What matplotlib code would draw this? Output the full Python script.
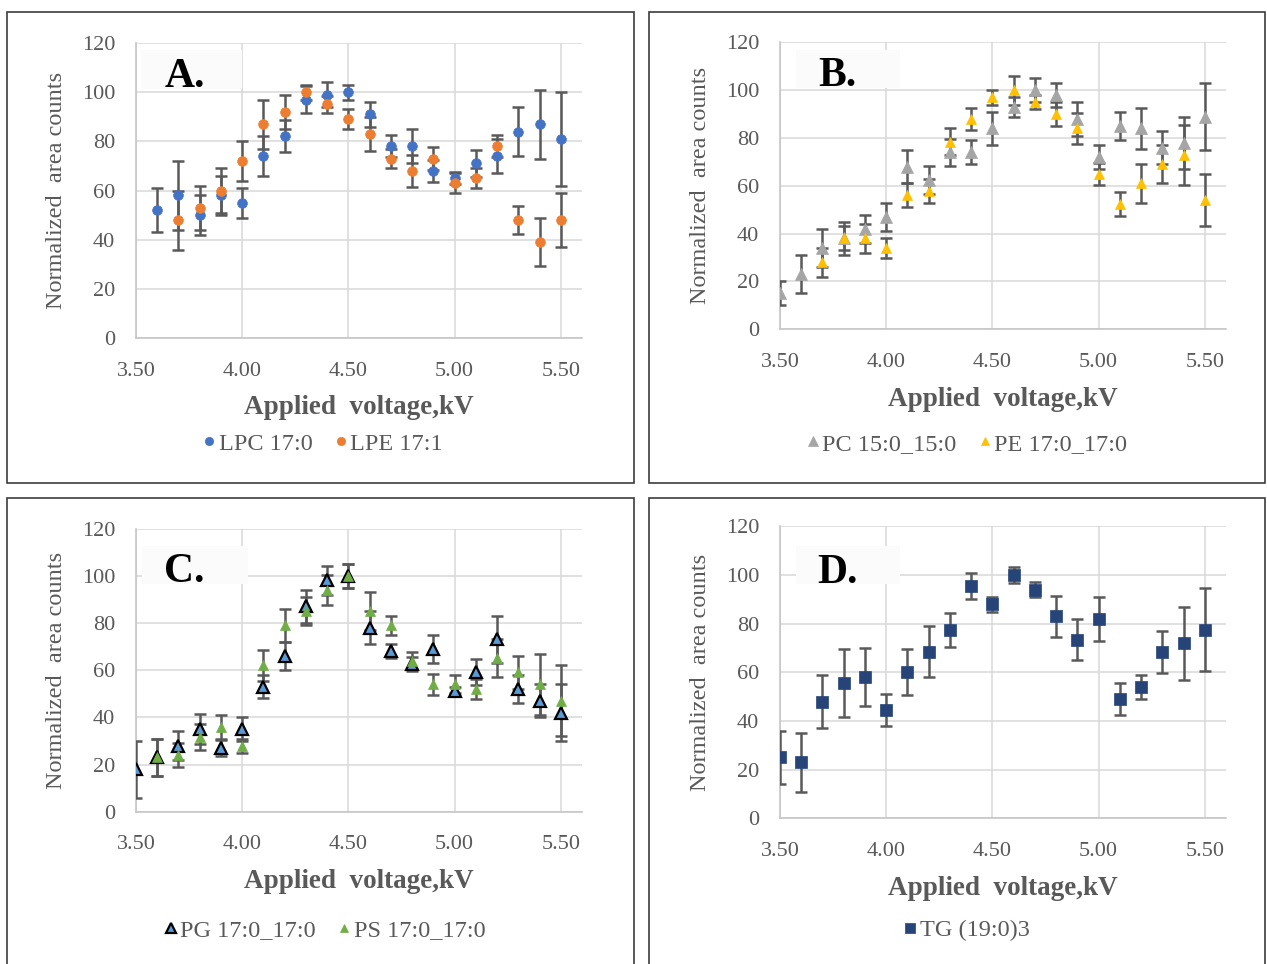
import matplotlib
matplotlib.use("Agg")
import matplotlib.pyplot as plt
from matplotlib.lines import Line2D
from matplotlib.patches import Rectangle

# ---------------- data ----------------
# Panel A
lpc_v = [3.6, 3.7, 3.8, 3.9, 4.0, 4.1, 4.2, 4.3, 4.4, 4.5, 4.6, 4.7, 4.8, 4.9, 5.0, 5.1, 5.2, 5.3, 5.4, 5.5]
lpc = [52, 58, 50, 58, 55, 74, 82, 97, 99, 100, 91, 78, 78, 68, 65, 71, 74, 84, 87, 81]
lpc_err = [9, 14, 8, 8, 6, 8, 6.5, 5.5, 5, 3, 5, 4.5, 7, 4.6, 2.5, 5.5, 7, 10, 14, 19]

lpe_v = [3.7, 3.8, 3.9, 4.0, 4.1, 4.2, 4.3, 4.4, 4.5, 4.6, 4.7, 4.8, 4.9, 5.0, 5.1, 5.2, 5.3, 5.4, 5.5]
lpe = [48, 53, 60, 72, 87, 92, 100, 95, 89, 83, 73, 68, 73, 63, 65, 78, 48, 39, 48]
lpe_err = [12, 9, 9, 8, 10, 7, 3, 3.5, 4, 7, 4, 6.5, 4.5, 4, 4, 4.5, 5.5, 9.7, 11]

# Panel B
pc_v = [3.5, 3.6, 3.7, 3.8, 3.9, 4.0, 4.1, 4.2, 4.3, 4.4, 4.5, 4.6, 4.7, 4.8, 4.9, 5.0, 5.1, 5.2, 5.3, 5.4, 5.5]
pc = [15, 23, 34, 38, 42, 47, 68, 62.5, 74, 74, 84, 93, 100, 98, 88, 72, 85, 84, 76, 78, 89]
pc_err = [5, 8, 8, 5, 6, 6, 7, 6, 5.5, 5, 7, 4, 5, 5, 7, 5, 6, 8.5, 7, 11, 14]

pe_v = [3.7, 3.8, 3.9, 4.0, 4.1, 4.2, 4.3, 4.4, 4.5, 4.6, 4.7, 4.8, 4.9, 5.0, 5.1, 5.2, 5.3, 5.4, 5.5]
pe = [28, 38, 38, 34, 56, 58, 78.5, 88, 97, 100, 95, 90, 84, 65, 52.5, 61, 69, 73, 54]
pe_err = [6, 7, 6, 4, 5, 5, 5.5, 4.5, 3, 6, 3, 5, 6.5, 4.6, 5, 8, 8, 12.5, 11]

# Panel C
pg_v = [3.5, 3.6, 3.7, 3.8, 3.9, 4.0, 4.1, 4.2, 4.3, 4.4, 4.5, 4.6, 4.7, 4.8, 4.9, 5.0, 5.1, 5.2, 5.3, 5.4, 5.5]
pg = [18, 23, 28, 35, 27, 35, 53, 66, 87, 98, 100, 78, 68, 62.5, 69, 51, 59, 73, 52, 47, 42]
pg_err = [12, 8, 6, 6.5, 3.5, 5, 5, 6, 7, 6, 5, 7, 3, 3, 6, 2, 5.5, 10, 6, 7, 12]

ps_v = [3.6, 3.7, 3.8, 3.9, 4.0, 4.1, 4.2, 4.3, 4.4, 4.5, 4.6, 4.7, 4.8, 4.9, 5.0, 5.1, 5.2, 5.3, 5.4, 5.5]
ps = [23, 24, 31.5, 36, 28, 62, 79, 85, 94, 100, 85, 79, 64, 54, 54, 52, 65, 59, 54, 47]
ps_err = [8, 5, 5.5, 5, 3, 6.5, 7, 6, 6.5, 5, 8, 4, 3.5, 4.5, 3.8, 4.3, 8, 7, 13, 15]

# Panel D
tg_v = [3.5, 3.6, 3.7, 3.8, 3.9, 4.0, 4.1, 4.2, 4.3, 4.4, 4.5, 4.6, 4.7, 4.8, 4.9, 5.0, 5.1, 5.2, 5.3, 5.4, 5.5]
tg = [25, 23, 48, 55.5, 58, 44.5, 60, 68.5, 77.5, 95.5, 88, 100, 94, 83, 73.5, 82, 49, 54, 68.5, 72, 77.5]
tg_err = [11, 12, 11, 14, 12, 6.7, 9.5, 10.5, 7, 5.5, 3, 3.4, 3, 8.5, 8.6, 9, 6.7, 4.8, 8.7, 15, 17]

x_ticks = [3.5, 4.0, 4.5, 5.0, 5.5]
y_ticks = [0, 20, 40, 60, 80, 100, 120]
x_label = "Applied  voltage,kV"
y_label = "Normalized  area counts"

# ---------------- styling ----------------
W, H, DPI = 1267, 964, 100
TEXT = "#595959"
GRID = "#d9d9d9"
ERR = "#595959"

plt.rcParams["font.family"] = ["Liberation Serif", "DejaVu Serif"]

STYLES = {
    "LPC 17:0": dict(marker="o", ms=7.0, mfc="#4472C4", mec="#4472C4", mew=0.5),
    "LPE 17:1": dict(marker="o", ms=7.0, mfc="#ED7D31", mec="#ED7D31", mew=0.5),
    "PC 15:0_15:0": dict(marker="^", ms=9.0, mfc="#A5A5A5", mec="#A5A5A5", mew=0.5),
    "PE 17:0_17:0": dict(marker="^", ms=7.5, mfc="#FFC000", mec="#FFC000", mew=0.5),
    "PG 17:0_17:0": dict(marker="^", ms=8.5, mfc="#5B9BD5", mec="black", mew=1.6),
    "PS 17:0_17:0": dict(marker="^", ms=7.5, mfc="#70AD47", mec="#70AD47", mew=0.5),
    "TG (19:0)3": dict(marker="s", ms=8.5, mfc="#264478", mec="#264478", mew=0.5),
}

panels = [
    dict(tag="A.", frame=(7, 12, 634, 483), axes=(136, 43, 582, 338),
         tag_box=(141, 50, 242, 89), tag_xy=(165, 87), legend_xy=(323, 444),
         series=[(lpc_v, lpc, lpc_err, "LPC 17:0"), (lpe_v, lpe, lpe_err, "LPE 17:1")]),
    dict(tag="B.", frame=(649, 12, 1265, 483), axes=(780, 42.4, 1226, 329.3),
         tag_box=(796, 50, 900, 88), tag_xy=(818, 86), legend_xy=(967, 444),
         series=[(pc_v, pc, pc_err, "PC 15:0_15:0"), (pe_v, pe, pe_err, "PE 17:0_17:0")]),
    dict(tag="C.", frame=(7, 498, 634, 1000), axes=(136, 528.5, 582, 811.7),
         tag_box=(142, 546, 248, 584), tag_xy=(164, 582), legend_xy=(325, 930),
         series=[(pg_v, pg, pg_err, "PG 17:0_17:0"), (ps_v, ps, ps_err, "PS 17:0_17:0")]),
    dict(tag="D.", frame=(649, 498, 1265, 1000), axes=(780, 526.4, 1226, 818.3),
         tag_box=(796, 546, 900, 584), tag_xy=(817, 583), legend_xy=(967, 930),
         series=[(tg_v, tg, tg_err, "TG (19:0)3")]),
]

fig = plt.figure(figsize=(W / DPI, H / DPI), dpi=DPI)


def fig_rect(l, t, r, b):
    return [l / W, 1 - b / H, (r - l) / W, (b - t) / H]


for p in panels:
    # outer frame of each panel
    l, t, r, b = p["frame"]
    fig.patches.append(Rectangle((l / W, 1 - b / H), (r - l) / W, (b - t) / H,
                                 transform=fig.transFigure, fill=False,
                                 edgecolor="#3c3c3c", linewidth=1.2, zorder=0))

    al, at, ar, ab = p["axes"]
    ax = fig.add_axes(fig_rect(al, at, ar, ab))
    aw, ah = ar - al, ab - at

    for xs, ys, es, name in p["series"]:
        st = STYLES[name]
        ax.errorbar(xs, ys, yerr=es, fmt="none", ecolor=ERR, elinewidth=1.8,
                    capsize=4.5, capthick=1.8, zorder=3)
        ax.plot(xs, ys, linestyle="none", zorder=4, **st)

    ax.set_xlim(3.5, 5.6)
    ax.set_ylim(0, 120)
    ax.set_xticks(x_ticks)
    ax.set_yticks(y_ticks)
    ax.set_xticklabels([f"{v:.2f}" for v in x_ticks])
    ax.set_yticklabels([str(v) for v in y_ticks])
    ax.tick_params(axis="both", length=0, labelsize=16, labelcolor=TEXT)
    ax.tick_params(axis="y", pad=15)
    ax.tick_params(axis="x", pad=17)
    ax.grid(True, color=GRID, linewidth=1.1, zorder=0)
    ax.set_axisbelow(True)
    for side in ("top", "right"):
        ax.spines[side].set_visible(False)
    for side in ("left", "bottom"):
        ax.spines[side].set_color("#c6c6c6")
        ax.spines[side].set_linewidth(1.2)

    ax.set_xlabel(x_label, fontsize=19.5, fontweight="bold", color=TEXT)
    ax.xaxis.set_label_coords(0.5, -70 / ah)
    ax.xaxis.label.set_va("center")
    ax.set_ylabel(y_label, fontsize=17.5, color=TEXT)
    ax.yaxis.set_label_coords(-79 / aw, 0.5)
    ax.yaxis.label.set_va("center")

    # panel tag with its faint background
    bl, bt, br, bb = p["tag_box"]
    fig.patches.append(Rectangle((bl / W, 1 - bb / H), (br - bl) / W, (bb - bt) / H,
                                 transform=fig.transFigure, facecolor="#fbfbfb",
                                 edgecolor="none", zorder=1))
    tx, ty = p["tag_xy"]
    fig.text(tx / W, 1 - ty / H, p["tag"], fontsize=30, fontweight="bold",
             color="black", ha="left", va="baseline", zorder=5)

    handles = []
    for xs, ys, es, name in p["series"]:
        st = dict(STYLES[name])
        st["ms"] = st["ms"] * 0.85
        handles.append(Line2D([], [], linestyle="none", label=name, **st))
    lx, ly = p["legend_xy"]
    fig.legend(handles=handles, loc="center", bbox_to_anchor=(lx / W, 1 - ly / H),
               ncol=len(handles), frameon=False, fontsize=17.5, labelcolor=TEXT,
               handlelength=0.5, handletextpad=0.15, columnspacing=0.9,
               borderpad=0, borderaxespad=0)

fig.savefig("out.png", dpi=DPI, facecolor="white")
